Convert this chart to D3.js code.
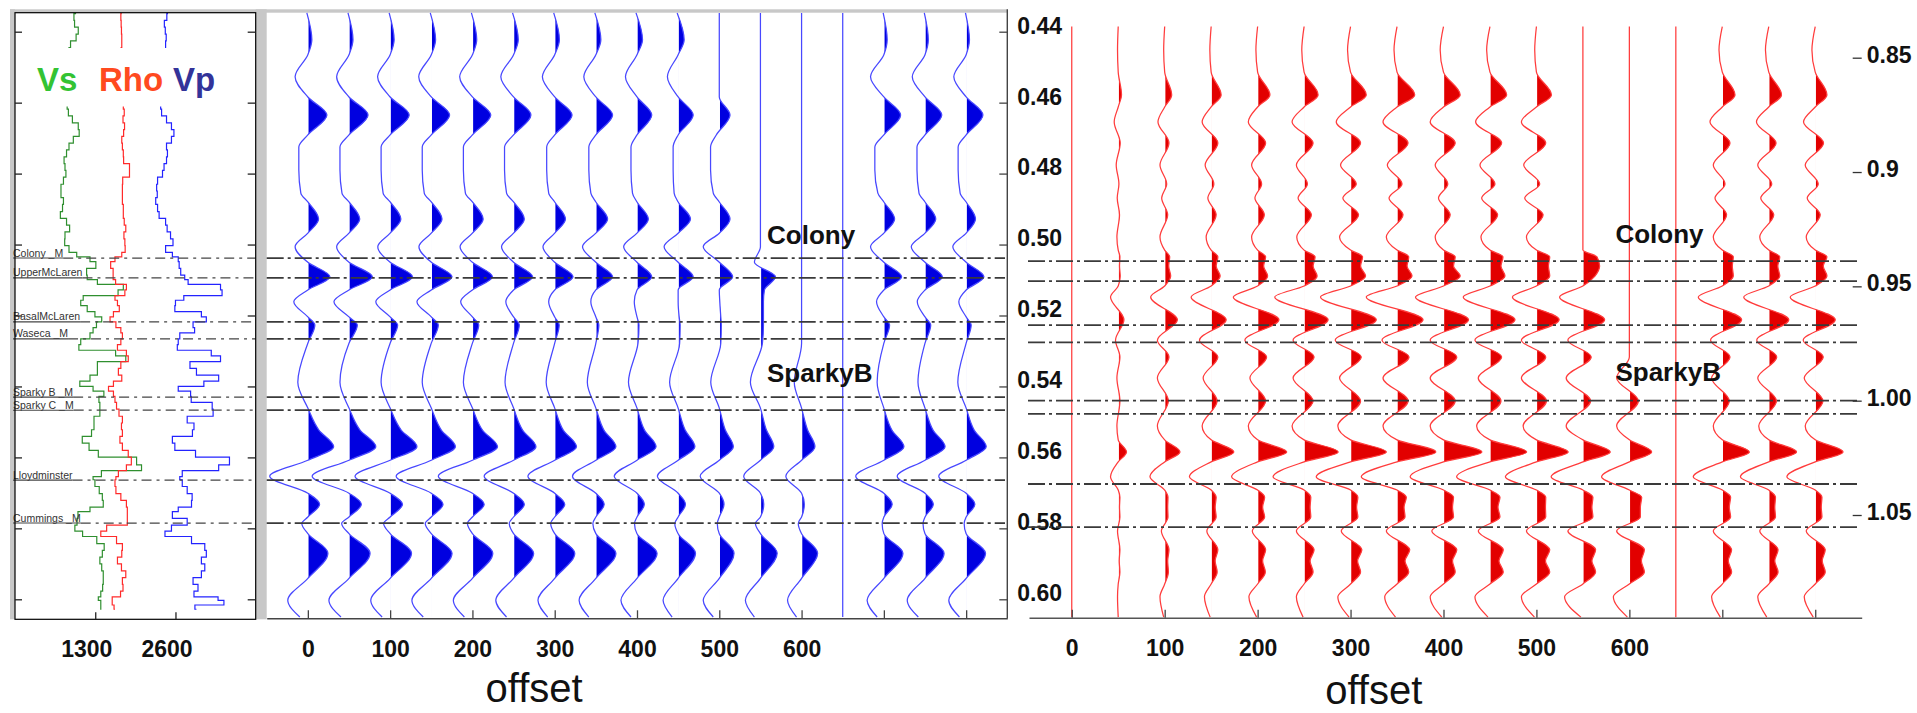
<!DOCTYPE html>
<html><head><meta charset="utf-8">
<script src="https://cdn.jsdelivr.net/npm/d3@7"></script>
<style>
body{margin:0;background:#fff;}
svg{display:block;font-family:"Liberation Sans",Arial,Helvetica,sans-serif;}
</style>
</head><body>
<svg id="c" width="1917" height="713"></svg>
<script>
// ---------------- DATA ----------------
const offsets = [0,50,100,150,200,250,300,350,400,450,500,550,600,650,700,750,800];
const offsetTicks = [0,100,200,300,400,500,600,700,800];
const offsetLabels = [0,100,200,300,400,500,600];
const timeTicks = [0.44,0.46,0.48,0.50,0.52,0.54,0.56,0.58,0.60];
const twtTicks = [0.85,0.90,0.95,1.00,1.05];
const twtLabels = ["0.85","0.9","0.95","1.00","1.05"];
const logTicks = [1300,2600];

// horizons (time, s)
const horizonTimes = [0.5038,0.5094,0.5218,0.5266,0.5430,0.5467,0.5664,0.5785];
const horizonNames = ["Colony _M","UpperMcLaren","BasalMcLaren","Waseca _M","Sparky B _M","Sparky C _M","Lloydminster","Cummings _M"];

// blue synthetic gather: sample times of wavelet extrema / zero points
const blueTimes = [0.4347,0.4423,0.4465,0.4527,0.4584,0.4635,0.4691,0.4725,0.4790,0.4855,0.4880,0.4928,0.4968,0.5006,0.5050,0.5091,0.5128,0.5161,0.5204,0.5227,0.5278,0.5388,0.5461,0.5523,0.5570,0.5608,0.5653,0.5701,0.5732,0.5768,0.5786,0.5815,0.5870,0.5941,0.6003,0.6050];
const blueAmps = [
 [-1,4,0,-12.7,0,19,0,-9,-9,-7,0,10.7,0,-12.7,0,22,0,-14,0,7,0,-10,0,11,25.7,0,-38,0,11.7,0,-6,0,20,0,-20,-8],
 [-1,4,0,-12.3,0,19,0,-9,-9,-7,0,10.7,0,-12.3,0,23.3,0,-15,0,8.3,0,-9,0,11,26.7,0,-36.7,0,12.3,0,-7.3,0,21,0,-20,-8],
 [-1,4,0,-12.5,0,19,0,-9,-9,-7,0,10.7,0,-12.3,0,22.3,0,-14.3,0,7.5,0,-9,0,11,26.7,0,-35,0,12.3,0,-6.5,0,21.3,0,-19.3,-8],
 [-1,4.3,0,-12.5,0,18.3,0,-9,-9,-7,0,10.7,0,-12.3,0,20.7,0,-14.3,0,7,0,-9,0,10,24,0,-35,0,11.7,0,-6,0,20.7,0,-19.3,-8],
 [-1,4.3,0,-12.7,0,18.3,0,-9,-9,-7,0,10.7,0,-12.3,0,20,0,-11.7,0,6.3,0,-9,0,10,25,0,-34,0,11.7,0,-5,0,20.3,0,-19,-8],
 [-1,4.7,0,-12.7,0,17.3,0,-9,-9,-7,0,10.7,0,-12,0,19,0,-7.7,0,5.7,0,-8.5,0,9,22.3,0,-29.3,0,10.7,0,-4.3,0,20,0,-17.7,-7],
 [-1,4.7,0,-12.3,0,17.3,0,-8,-8,-6,0,10.7,0,-11.7,0,18.3,0,-6,0,4.5,0,-8.5,0,8.5,21.7,0,-26.7,0,10,0,-4,0,20,0,-16.7,-7],
 [-1,5,0,-12,0,16.7,0,-7,-7,-5,0,11.7,0,-13.3,0,16.7,0,-5,0,3,0,-8.5,0,8,20,0,-23.3,0,8.3,0,-3,0,20,0,-16.7,-7],
 [-1,5.5,0,-11.5,0,14.7,0,-6,-6,-4.5,0,11.3,0,-13.3,0,14.7,0,-2.7,0,2,1,-8.5,0,7.5,19,0,-22.7,0,7.3,0,-2.5,0,20,0,-16,-6],
 [-1,6,0,-10.7,0,15,0,-5,-5,-4,0,12.3,0,-14,0,15,0,0,1,2,1.5,-8.5,0,7,16.7,0,-20.7,0,7.3,0,-3.3,0,17.3,0,-15,-6],
 [0,0,0,0,0,10.7,-3,-8.7,-8.7,-6,0,10.7,0,-16,0,13.3,0,0.5,1.5,2,1.5,-8.5,0,6,14,0,-19,0,4.7,0,-2,0,14.7,0,-16,-6],
 [0,0,0,0,0,0,0,0,0,0,0,0,0,0,-6,15,4,3,3,3,2,-10,0,6,13.3,0,-16.7,0,3.3,0,-5,0,16.7,0,-15,-6],
 [0,0,0,0,0,0,0,0,0,0,0,0,0,0,0,0,0,0,0,0,0,-7.3,0,6,13.3,0,-15.7,0,2.7,0,-3.3,0,16,0,-14,-5],
 [0,0,0,0,0,0,0,0,0,0,0,0,0,0,0,0,0,0,0,0,0,0,0,0,0,0,0,0,0,0,0,0,0,0,0,0],
 [-0.7,3.3,0,-13.3,0,16.7,0,-9,-9,-6,0,10.7,0,-13.3,0,17.7,0,-7.3,0,5.7,0,-6.7,0,8,20,0,-28,0,8.3,0,-1.7,0,19,0,-16.7,-6.7],
 [-0.7,3.3,0,-12.7,0,16.7,0,-8,-8,-6,0,10.7,0,-13.7,0,17.3,0,-7.7,0,5.7,0,-7,0,8,20,0,-27.7,0,8.3,0,-2,0,19,0,-17.7,-6.7],
 [-0.7,3.3,0,-12.3,0,16.7,0,-8,-8,-6,0,9.3,0,-13.3,0,17.7,0,-7.3,0,5,0,-8.3,0,8,20,0,-27.3,0,8.7,0,-2,0,19.3,0,-17.3,-6.7]
];

// red synthetic gather
const redTimes = [0.4379,0.4445,0.4507,0.4571,0.4605,0.4647,0.4706,0.4768,0.4821,0.4861,0.4908,0.4970,0.5007,0.5026,0.5052,0.5080,0.5108,0.5139,0.5203,0.5260,0.5307,0.5366,0.5431,0.5501,0.5540,0.5574,0.5602,0.5644,0.5681,0.5701,0.5729,0.5757,0.5796,0.5849,0.5880,0.5911,0.5945,0.5981,0.6038];
const redAmps = [
 [0,0,0,0,0,0,0,0,0,0,0,0,0,0,0,0,0,0,0,0,0,0,0,0,0,0,0,0,0,0,0,0,0,0,0,0,0,0,0],
 [0,-0.7,0,3.3,0,-4,2,-2,0.7,-1,1.3,-1.3,0,1.7,1.3,2,0,-7.7,5.7,-2.7,1.7,-1.3,1.7,-1.3,0,8.3,0,-7.7,0,1.7,1.3,1.7,-0.7,1.7,1,1.7,0,-0.7,0],
 [0,-1,0,7,0,-6.7,4.3,-4.7,2,-3,3,-4.7,0,5,4,6,0,-14,12.7,-7.3,4.3,-7.3,3.7,-7.3,0,15.3,0,-14.7,0,3.3,3,3.3,-3.3,4.3,3,3.7,0,-4.7,-1],
 [0,-1.3,0,10,0,-9,6.7,-6,2.7,-3.3,5,-5,0,6.7,5,9,0,-20,15,-11.7,6.7,-8,6,-9,0,22.7,0,-21.7,0,5,4,5,-4.3,6.7,4,6,0,-6.7,-1],
 [0,-1.7,0,12.3,0,-9.3,8,-6,4,-2.7,6.7,-6,0,8,6,10,0,-24.3,21.3,-12.7,9,-7.7,8,-9.3,0,29,0,-26,0,7,5,7,-5.3,8,5,7.7,0,-8.7,-1],
 [0,-2.3,0,14,0,-12,9,-7.7,3.3,-6,7.3,-7.3,0,11,9,13,0,-29.3,24,-11,10,-11,9,-12,0,34,0,-31,0,6.7,6,6.7,-7.7,10,6,9,0,-7.7,-1],
 [0,-3,0,15.7,0,-14.3,10,-10,5.7,-7.7,8,-11,0,12,10,15,0,-30,25.7,-15.3,10.7,-11,10,-12.7,0,35.7,0,-34.3,0,7.3,6,7.3,-9.3,11.3,7,10,0,-12.7,-1.5],
 [0,-3,0,17.7,0,-14,11,-9.7,5,-8,6,-10.7,0,11.7,10,15,0,-30.7,26,-15,12,-14,11,-14,0,38.7,0,-35.7,0,9.3,7,8,-10.7,12.7,8,11.7,0,-12.3,-1.5],
 [0,-3.3,0,16.7,0,-13.3,11.7,-8.3,4.3,-5,6.7,-8.3,0,11.7,10,16.7,0,-28,25,-13.3,13.3,-13.3,11.7,-13.3,0,38.3,0,-33.3,0,10,9,10,-11.7,13.3,9,11.7,0,-13.3,-1.7],
 [0,-3.3,0,16.7,0,-14.3,11.7,-10,5,-8.3,7.7,-9,0,13,11,15,0,-26.7,25,-15,11.7,-11.7,11,-13.3,0,36.7,0,-33.3,0,10,8,10,-11.7,13.3,9,13.3,0,-15,-2],
 [0,-1.7,0,15,0,-15,9.3,-12.7,3.3,-11.7,6.7,-10,0,13.3,12,13.3,0,-24,22.7,-15,9.3,-15,10,-13.3,0,31.7,0,-31,0,9.3,9,9.3,-10,13.3,9,13.3,0,-15,-2],
 [0,0,0,0,0,0,0,0,0,0,0,0,0,14,16.7,12,0,-23.3,21.7,-15,8.3,-16.7,7.7,-16.7,0,27.3,0,-31.7,0,10,9,10,-15,12.7,9,12.7,0,-18.3,-2],
 [0,0,0,0,0,0,0,0,0,0,0,0,0,0,0,0,0,0,0,0,0,-12.7,9,-12.7,0,22.3,0,-27.7,0,12.3,11,11,-12.7,15,12,15,0,-16,-2],
 [0,0,0,0,0,0,0,0,0,0,0,0,0,0,0,0,0,0,0,0,0,0,0,0,0,0,0,0,0,0,0,0,0,0,0,0,0,0,0],
 [0,-3.3,0,12.7,0,-12.3,7.7,-9,2.7,-7.3,4.3,-9,0,11,10,11,0,-24,19.3,-11.7,7.7,-10.7,7,-9,0,27,0,-29,0,8.3,7,8.3,-9,9.3,6,9.3,0,-10.7,-2],
 [0,-3.3,0,12.7,0,-12.3,7.3,-11,3,-8,5,-9,0,11,9,11,0,-25,20,-12,8,-11,7.7,-10,0,27.7,0,-28.3,0,6.7,6,6.7,-9,9.3,6,9.3,0,-11,-2],
 [0,-3.3,0,11.7,0,-11.7,8.3,-10,3,-8,5,-9,0,11.7,8,11.7,0,-25,20,-12,8,-11,7.7,-10,0,27.7,0,-28.3,0,6.7,6,6.7,-9,10,7,10,0,-11,-2]
];

// well logs (time, s) and values
const logTimes = [0.4349,0.4368,0.4387,0.4407,0.4426,0.4445,0.4464,0.4483,0.4503,0.4522,0.4541,0.4560,0.4580,0.4599,0.4618,0.4637,0.4657,0.4676,0.4695,0.4714,0.4733,0.4753,0.4772,0.4791,0.4810,0.4830,0.4849,0.4868,0.4887,0.4907,0.4926,0.4945,0.4964,0.4984,0.5003,0.5022,0.5035,0.5048,0.5067,0.5086,0.5099,0.5112,0.5128,0.5144,0.5157,0.5172,0.5189,0.5204,0.5218,0.5234,0.5249,0.5266,0.5282,0.5298,0.5314,0.5330,0.5349,0.5368,0.5385,0.5400,0.5413,0.5428,0.5445,0.5464,0.5484,0.5503,0.5522,0.5541,0.5560,0.5580,0.5599,0.5621,0.5637,0.5654,0.5663,0.5682,0.5702,0.5721,0.5740,0.5753,0.5772,0.5791,0.5808,0.5823,0.5843,0.5862,0.5881,0.5900,0.5920,0.5939,0.5958,0.5977,0.5993,0.6003,0.6016,0.6028];
const vsLog = [990,920,1010,1040,940,860,890,920,890,900,890,890,860,850,840,890,970,1080,1000,890,860,810,780,840,810,760,730,760,810,730,740,930,840,780,830,920,1080,1350,1270,1050,1290,1380,2130,1210,1000,1130,1210,1380,1430,1210,1320,1110,1020,1050,2210,1380,1290,1380,1050,1050,1480,1400,1320,1430,1320,1240,1320,1160,1020,1380,1320,2620,1480,1320,1210,1380,1350,1480,1380,1050,990,1020,920,1270,1380,1510,1320,1430,1380,1480,1380,1460,1320,1380,1400,1380];
const rhoLog = [1730,1700,1740,1710,1750,1710,1730,1730,1740,1730,1730,1730,1730,1730,1780,1760,1740,1810,1710,1750,1730,1780,1740,1970,1740,1750,1730,1750,1730,1780,1730,1810,1780,1750,1810,1760,1700,1540,1560,1620,1560,1700,1910,1650,1590,1730,1650,1540,1540,1730,1700,1780,1650,1670,1940,1730,1700,1650,1810,1380,1650,1540,1700,1590,1780,1700,1750,1730,1670,1810,1860,1910,1700,1650,1620,1620,1650,1780,1830,1810,1830,1810,1160,1620,1670,1810,1650,1670,1780,1810,1670,1830,1590,1560,1590,1620];
const vpLog = [2480,2440,2400,2470,2430,2450,2430,2450,2430,2440,2430,2430,2400,2370,2350,2400,2510,2560,2590,2480,2430,2510,2400,2430,2350,2270,2320,2290,2270,2350,2320,2560,2370,2670,2450,2430,2670,2620,2700,2670,2830,2780,3880,2830,2640,2560,2620,3420,2780,2990,2830,2510,2780,2480,3880,2780,2890,2990,3610,2510,2780,2910,2800,3590,2830,2750,3050,2700,2400,2780,3070,3880,2720,2700,2640,2780,2800,2940,2780,2510,2590,2990,2080,2780,2940,3210,2990,3050,3100,2940,2830,3100,2700,3880,2890,2940];

// ---------------- DRAWING ----------------
const svg = d3.select("#c");
const defs = svg.append("defs");
const GRAY = "#c8c8c8";
const FONT = '"Liberation Sans",Arial,sans-serif';

// scales
const xLog = d3.scaleLinear().domain([0, 3900]).range([15, 255.7]);
const yB = d3.scaleLinear().domain([0.44, 0.60]).range([31.7, 599.3]);
const xB = d3.scaleLinear().domain([-50, 850]).range([266.7, 1007.3]);
const ampB = d3.scaleLinear().domain([0, 41]).range([0, xB(50) - xB(0)]);
const xR = d3.scaleLinear().domain([-46, 850]).range([1029, 1861.7]);
const yR = d3.scaleLinear().domain([0.44, 0.60]).range([34, 603.6]);
const ampR = d3.scaleLinear().domain([0, 46.4]).range([0, xR(50) - xR(0)]);
const yTwt = d3.scaleLinear().domain([0.85, 1.05]).range([57.7, 515]);

// gray frame
svg.append("rect").attr("x",10).attr("y",9.3).attr("width",997.3).attr("height",3.4).attr("fill",GRAY);
svg.append("rect").attr("x",10).attr("y",9.3).attr("width",5).attr("height",610).attr("fill",GRAY);
svg.append("rect").attr("x",255.7).attr("y",9.3).attr("width",11).attr("height",610).attr("fill",GRAY);

// ---------- well log panel ----------
const gL = svg.append("g");
defs.append("clipPath").attr("id","logclip").append("rect")
  .attr("x",15).attr("y",12.7).attr("width",240.7).attr("height",606.6);
const logLine = (vals) => d3.line().curve(d3.curveStep)
  .x((d,i) => xLog(vals[i])).y((d,i) => yB(logTimes[i]))(logTimes);
const gCurves = gL.append("g").attr("clip-path","url(#logclip)");
gCurves.append("path").attr("d", logLine(vsLog)).attr("fill","none").attr("stroke","#2f8f2f").attr("stroke-width",1.2);
gCurves.append("path").attr("d", logLine(rhoLog)).attr("fill","none").attr("stroke","#ff2a2a").attr("stroke-width",1.2);
gCurves.append("path").attr("d", logLine(vpLog)).attr("fill","none").attr("stroke","#2323ff").attr("stroke-width",1.2);

// white label background
gL.append("rect").attr("x",22).attr("y",48).attr("width",224).attr("height",58.5).attr("fill","#fff");
const logNames = [["Vs","#33c333",37],["Rho","#ff4a1f",99],["Vp","#333399",173]];
logNames.forEach(([t,c,x]) => gL.append("text").attr("x",x).attr("y",91).text(t)
  .attr("fill",c).attr("font-size",33).attr("font-weight","bold"));

// horizons in log panel
horizonTimes.forEach((t,i) => {
  const y = yB(t);
  const txt = gL.append("text").attr("x",13).attr("y",y-1.5).text(horizonNames[i])
    .attr("font-size",10.5).attr("fill","#333");
  const w = txt.node().getComputedTextLength();
  gL.append("line").attr("x1",13).attr("x2",13+w).attr("y1",y).attr("y2",y)
    .attr("stroke","#444").attr("stroke-width",1.1);
  gL.append("line").attr("x1",13+w).attr("x2",255.7).attr("y1",y).attr("y2",y)
    .attr("stroke","#444").attr("stroke-width",1.2).attr("stroke-dasharray","10,5,3,5");
});

// box
gL.append("rect").attr("x",15).attr("y",12.7).attr("width",240.7).attr("height",606.6)
  .attr("fill","none").attr("stroke","#000").attr("stroke-width",1.2);

// log axes (inner ticks)
const styleAxis = (g, color) => {
  g.select(".domain").remove();
  g.selectAll(".tick line").attr("stroke", color).attr("stroke-width",1.3);
  g.selectAll("text").attr("font-family",FONT)
    .attr("font-size",23).attr("font-weight","bold").attr("fill","#111");
};
const gLl = gL.append("g").attr("transform","translate(15,0)")
  .call(d3.axisLeft(yB).tickValues(timeTicks).tickSize(-7).tickFormat(""));
styleAxis(gLl,"#222");
const gLr = gL.append("g").attr("transform","translate(255.7,0)")
  .call(d3.axisRight(yB).tickValues(timeTicks).tickSize(-8).tickFormat(""));
styleAxis(gLr,"#222");
const gLb = gL.append("g").attr("transform","translate(0,619.3)")
  .call(d3.axisBottom(xLog).tickValues(logTicks).tickSize(-7).tickPadding(21).tickFormat(d3.format("d")));
styleAxis(gLb,"#222");
gLb.selectAll("text").attr("dx",-9);

// ---------- trace drawing ----------
function drawGather(g, xS, yS, ampS, times, amps, idp, lineCol, fillCol, yTop, yBot) {
  offsets.forEach((off, i) => {
    const base = xS(off);
    const pts = times.map((t,k) => [t, amps[i][k]]);
    const line = d3.line().curve(d3.curveMonotoneY)
      .x(d => base + ampS(d[1])).y(d => yS(d[0]));
    const dLine = line(pts);
    const id = idp + i;
    defs.append("clipPath").attr("id", id).append("rect")
      .attr("x", base + 0.7).attr("y", yTop - 5).attr("width", 80).attr("height", yBot - yTop + 10);
    const yFirst = yS(times[0]), yLast = yS(times[times.length-1]);
    g.append("path").attr("d", dLine + `L${base},${yLast}L${base},${yFirst}Z`)
      .attr("fill", fillCol).attr("stroke","none").attr("clip-path",`url(#${id})`);
    g.append("path").attr("d", dLine).attr("fill","none").attr("stroke", lineCol).attr("stroke-width",1.25);
  });
}

// ---------- blue panel ----------
const gBl = svg.append("g");
drawGather(gBl, xB, yB, ampB, blueTimes, blueAmps, "cb", "#4848ff", "#0000e0", 12.7, 618.3);
horizonTimes.forEach(t => {
  gBl.append("line").attr("x1",266.7).attr("x2",1005).attr("y1",yB(t)).attr("y2",yB(t))
    .attr("stroke","#3a3a3a").attr("stroke-width",1.8).attr("stroke-dasharray","17,4,3,4");
});
// right time axis
svg.append("line").attr("x1",1007.3).attr("x2",1007.3).attr("y1",9.3).attr("y2",618.3)
  .attr("stroke","#444").attr("stroke-width",1.4);
const gBt = svg.append("g").attr("transform","translate(1007.3,0)")
  .call(d3.axisRight(yB).tickValues(timeTicks).tickSize(-8).tickPadding(10).tickFormat(d3.format(".2f")));
styleAxis(gBt,"#444");
gBt.selectAll("text").attr("dy","0.06em");
// bottom offset axis
const gBx = svg.append("g").attr("transform","translate(0,618.3)")
  .call(d3.axisBottom(xB).tickValues(offsetTicks).tickSize(-8).tickSizeOuter(0).tickPadding(22)
    .tickFormat(d => offsetLabels.includes(d) ? d : ""));
gBx.select(".domain").attr("stroke","#444").attr("stroke-width",1.4);
gBx.selectAll(".tick line").attr("stroke","#444").attr("stroke-width",1.3);
gBx.selectAll("text").attr("font-size",23).attr("font-weight","bold").attr("fill","#111")
  .attr("font-family",FONT);
svg.append("text").attr("x",xB(275)).attr("y",702).attr("text-anchor","middle")
  .attr("font-size",40).attr("fill","#111").text("offset");
svg.append("text").attr("x",xB(558)).attr("y",yB(horizonTimes[0])-14).text("Colony")
  .attr("font-size",26).attr("font-weight","bold").attr("fill","#111");
svg.append("text").attr("x",xB(558)).attr("y",yB(horizonTimes[4])-15).text("SparkyB")
  .attr("font-size",26).attr("font-weight","bold").attr("fill","#111");

// ---------- red panel ----------
const gRd = svg.append("g");
drawGather(gRd, xR, yR, ampR, redTimes, redAmps, "cr", "#ff3c3c", "#e20000", 26.7, 617.7);
horizonTimes.forEach(t => {
  gRd.append("line").attr("x1",1028).attr("x2",1859).attr("y1",yR(t)).attr("y2",yR(t))
    .attr("stroke","#3a3a3a").attr("stroke-width",1.8).attr("stroke-dasharray","17,4,3,4");
});
const gRx = svg.append("g").attr("transform","translate(0,617.7)")
  .call(d3.axisBottom(xR).tickValues(offsetTicks).tickSize(-8).tickSizeOuter(0).tickPadding(22)
    .tickFormat(d => offsetLabels.includes(d) ? d : ""));
gRx.select(".domain").attr("stroke","#555").attr("stroke-width",1.5);
gRx.selectAll(".tick line").attr("stroke","#444").attr("stroke-width",1.3);
gRx.selectAll("text").attr("font-size",23).attr("font-weight","bold").attr("fill","#111")
  .attr("font-family",FONT);
const gRt = svg.append("g").attr("transform","translate(1852.7,0)")
  .call(d3.axisRight(yTwt).tickValues(twtTicks).tickSize(9).tickPadding(5)
    .tickFormat((d,i) => twtLabels[i]));
styleAxis(gRt,"#333");
gRt.selectAll("text").attr("dy","0.2em");
svg.append("text").attr("x",xR(325)).attr("y",704).attr("text-anchor","middle")
  .attr("font-size",40).attr("fill","#111").text("offset");
svg.append("text").attr("x",xR(585)).attr("y",yR(horizonTimes[0])-18).text("Colony")
  .attr("font-size",26).attr("font-weight","bold").attr("fill","#111");
svg.append("text").attr("x",xR(585)).attr("y",yR(horizonTimes[4])-20).text("SparkyB")
  .attr("font-size",26).attr("font-weight","bold").attr("fill","#111");
</script>
</body></html>
